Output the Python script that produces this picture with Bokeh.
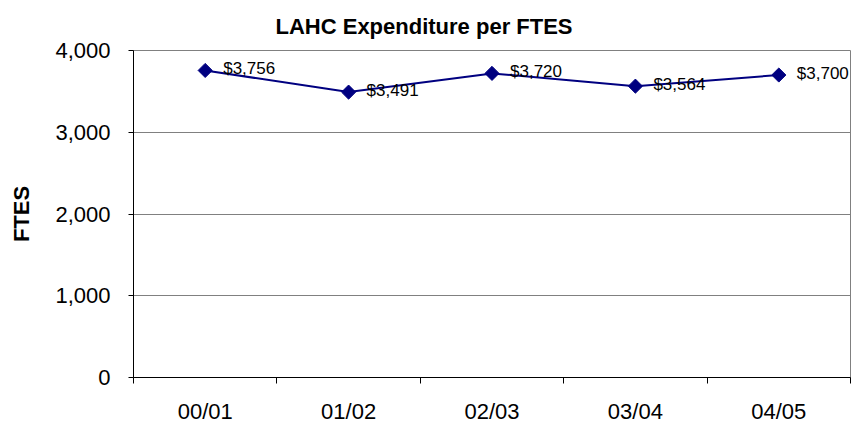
import math
from bokeh.plotting import figure
from bokeh.models import ColumnDataSource, FixedTicker, NumeralTickFormatter, LabelSet, Range1d
from bokeh.core.properties import value
from bokeh.embed import file_html
from bokeh.resources import INLINE

years = ["00/01", "01/02", "02/03", "03/04", "04/05"]
expenditure = [3756, 3491, 3720, 3564, 3700]
y_ticks = [0, 1000, 2000, 3000, 4000]
title_text = "LAHC Expenditure per FTES"
y_label = "FTES"

FONT = "Liberation Sans"
NAVY = "#000080"

xs = [i + 0.5 for i in range(len(years))]
labels = ["$" + f"{v:,}" for v in expenditure]
src = ColumnDataSource(dict(x=xs, y=expenditure, label=labels))

p = figure(width=857, height=426, output_backend="svg", toolbar_location=None,
           x_range=Range1d(0, len(years)), y_range=Range1d(y_ticks[0], y_ticks[-1]),
           min_border_left=133, min_border_right=7, min_border_top=50, min_border_bottom=48,
           background_fill_color="white", border_fill_color="white")

p.outline_line_color = "#808080"
p.outline_line_width = 1

# title
p.title.text = title_text
p.title.align = "left"
p.title.offset = 142
p.title.text_font = FONT
p.title.text_font_size = "22px"
p.title.text_font_style = "bold"
p.title.text_color = "black"
p.title.standoff = 23

# y axis
p.yaxis.ticker = FixedTicker(ticks=y_ticks, minor_ticks=[])
p.yaxis.formatter = NumeralTickFormatter(format="0,0")
p.yaxis.major_tick_out = 5
p.yaxis.major_tick_in = 0
p.yaxis.minor_tick_out = 0
p.yaxis.minor_tick_in = 0
p.yaxis.major_label_standoff = 18
p.yaxis.major_label_text_font = FONT
p.yaxis.major_label_text_font_size = "22px"
p.yaxis.major_label_text_color = "black"
p.yaxis.axis_line_color = "black"
p.yaxis.major_tick_line_color = "black"
p.yaxis.axis_label = y_label
p.yaxis.axis_label_text_font = FONT
p.yaxis.axis_label_text_font_size = "22px"
p.yaxis.axis_label_text_font_style = "bold"
p.yaxis.axis_label_text_color = "black"
p.yaxis.axis_label_standoff = 18

# x axis: labels at category centres, ticks at boundaries
p.xaxis.ticker = FixedTicker(ticks=xs, minor_ticks=list(range(len(years) + 1)))
p.xaxis.major_label_overrides = {x: lab for x, lab in zip(xs, years)}
p.xaxis.major_tick_out = 0
p.xaxis.major_tick_in = 0
p.xaxis.minor_tick_out = 6
p.xaxis.minor_tick_in = 0
p.xaxis.minor_tick_line_color = "black"
p.xaxis.axis_line_color = "black"
p.xaxis.major_label_standoff = 15
p.xaxis.major_label_text_font = FONT
p.xaxis.major_label_text_font_size = "22px"
p.xaxis.major_label_text_color = "black"

# grid
p.xgrid.visible = False
p.ygrid.grid_line_color = "#808080"
p.ygrid.grid_line_width = 1

p.line("x", "y", source=src, line_color=NAVY, line_width=2)
p.scatter("x", "y", source=src, marker="square", angle=math.pi / 4, size=10,
          fill_color=NAVY, line_color=NAVY)

lbls = LabelSet(x="x", y="y", text="label", source=src, x_offset=18, y_offset=2,
                text_baseline="middle", text_align="left", text_font=value(FONT),
                text_font_size=value("17px"), text_color="black")
p.add_layout(lbls)

open("out.html", "w").write(file_html(p, INLINE))
